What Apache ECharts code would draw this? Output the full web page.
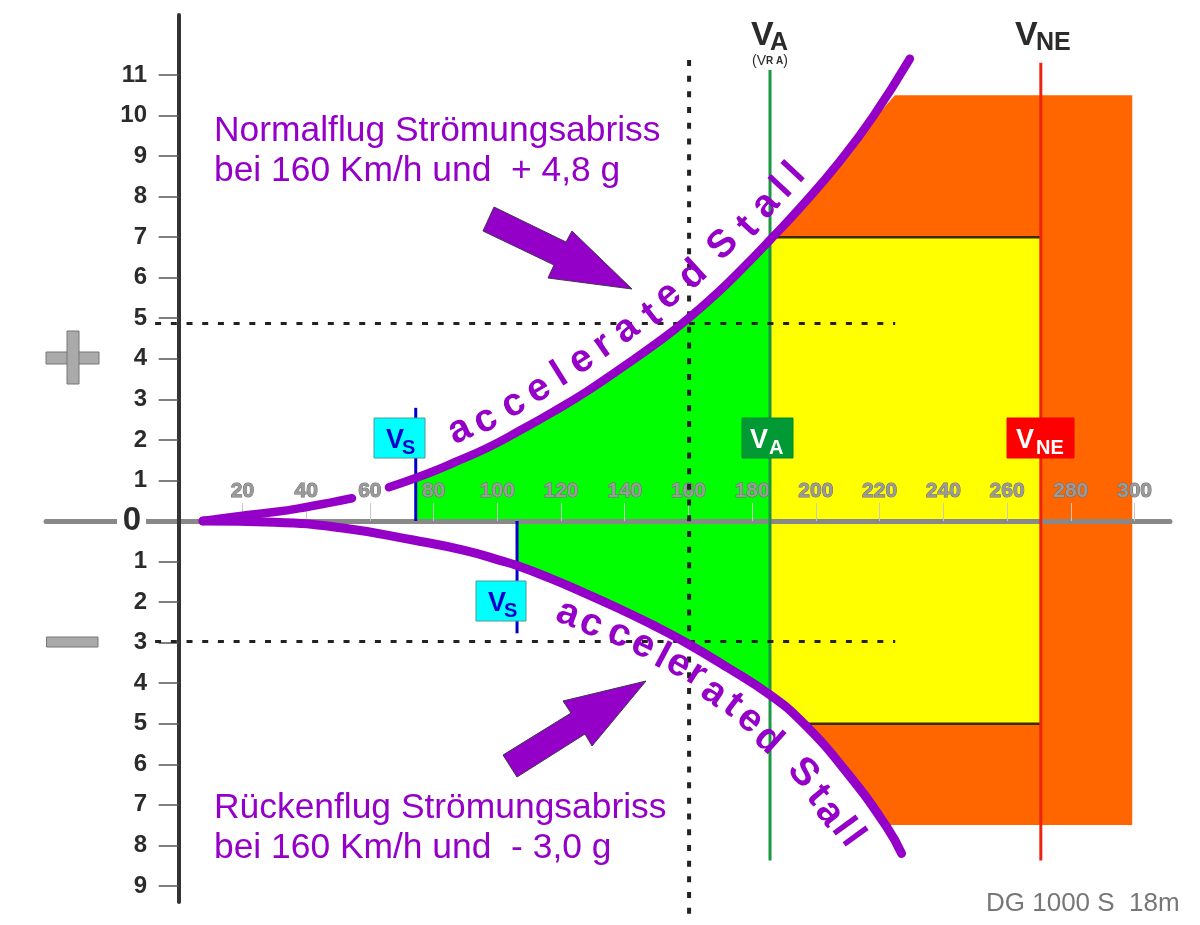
<!DOCTYPE html>
<html>
<head>
<meta charset="utf-8">
<title>DG 1000 S 18m</title>
<script src="https://cdn.jsdelivr.net/npm/echarts@6/dist/echarts.min.js"></script>
<style>
  html, body { margin: 0; padding: 0; background: #fff; }
  #chart { width: 1200px; height: 925px; }
</style>
</head>
<body>
<div id="chart"></div>
<script>
// Geschwindigkeit in km/h, Lastvielfaches in g (negativ = Rückenflug)
const speedTicks = [20, 40, 60, 80, 100, 120, 140, 160, 180, 200, 220, 240, 260, 280, 300];
const loadTicks = [11, 10, 9, 8, 7, 6, 5, 4, 3, 2, 1, -1, -2, -3, -4, -5, -6, -7, -8, -9];

// Stall-Kurve oben, Lücke um die Beschriftung "60"
const upperCurveLow = [[7.6, 0], [20, 0.13], [30, 0.22], [39.8, 0.34], [48, 0.46], [54.4, 0.56]];
const upperCurveHigh = [[66, 0.83], [74.4, 1.06], [79.8, 1.22], [86.1, 1.43], [96.8, 1.8], [107.1, 2.23], [117.5, 2.69], [128.2, 3.2], [138.5, 3.75], [152, 4.5], [160, 5], [169, 5.62], [177.1, 6.24], [185.6, 6.93], [195, 7.72], [207.5, 8.87], [218, 9.98], [229.5, 11.4]];
// Stall-Kurve unten
const lowerCurve = [[7.6, 0], [30, -0.03], [52, -0.18], [73.6, -0.47], [90, -0.73], [100.8, -0.97], [106.2, -1.1], [116.5, -1.41], [126.9, -1.76], [137.6, -2.14], [147.9, -2.53], [158.3, -2.96], [172, -3.6], [185.6, -4.29], [196, -4.98], [209.7, -6.2], [222.2, -7.54], [226.9, -8.2]];

const orangeEnvelope = [[185.6, 7], [224.8, 10.5], [299.3, 10.5], [299.3, -7.5], [222.5, -7.5], [197, -5]];
const yellowEnvelope = [[185.6, 7], [270.6, 7], [270.6, -5], [197, -5], [185.6, -4.29]];

const vsNormal = 74.4;
const vsInverted = 106.2;
const vA = 185.6;
const vNE = 270.6;
const vCheck = 160.2;
const gNormal = 4.87;
const gInverted = -2.97;
const gLimitPos = 7;
const gLimitNeg = -5;

const PURPLE = '#9400c8';
const FONT = '"Liberation Sans", Arial, sans-serif';

// Grüner Bereich: von Vs oben an der Kurve entlang bis VA und zurück bis Vs unten
const greenEnvelope = upperCurveHigh.filter(p => p[0] >= vsNormal && p[0] <= vA)
  .concat(lowerCurve.filter(p => p[0] >= vsInverted && p[0] <= vA).reverse())
  .concat([[vsInverted, 0], [vsNormal, 0]]);

function areaSeries(points, color, z) {
  return {
    type: 'custom',
    silent: true,
    z: z,
    clip: false,
    data: points,
    renderItem: function (params, api) {
      if (params.dataIndex !== 0) return null;
      return {
        type: 'polygon',
        shape: { points: points.map(p => api.coord(p)) },
        style: { fill: color }
      };
    }
  };
}

function lineSeries(points, color, width, z, dash, cap) {
  return {
    type: 'line',
    data: points,
    showSymbol: false,
    silent: true,
    clip: false,
    z: z,
    smooth: false,
    lineStyle: { color: color, width: width, type: dash || 'solid', cap: cap || 'butt' }
  };
}

function curveSeries(points, width) {
  let s = lineSeries(points, PURPLE, width, 7, 'solid', 'round');
  s.smooth = 0.5;
  return s;
}

// Beschriftungen: [Buchstabe, x, y, Winkel]
const stallTop = [
  ['a', 461, 433, 25], ['c', 487, 423, 27], ['c', 515, 407, 28], ['e', 540, 392, 30],
  ['l', 560, 375, 32], ['e', 583, 363, 33], ['r', 605, 348, 35], ['a', 628, 332, 37],
  ['t', 652, 315, 38], ['e', 670, 298, 40], ['d', 693, 275, 42], ['S', 723, 245, 45],
  ['t', 748, 227, 47], ['a', 768, 207, 48], ['l', 782, 188, 47], ['l', 795, 173, 47]
];
const stallBottom = [
  ['a', 567, 617, -21], ['c', 590, 627, -22], ['c', 618, 637, -24], ['e', 642, 648, -26],
  ['l', 662, 657, -28], ['e', 677, 667, -30], ['r', 695, 677, -32], ['a', 712, 695, -35],
  ['t', 733, 705, -37], ['e', 748, 722, -40], ['d', 768, 740, -42], ['S', 803, 773, -48],
  ['t', 818, 795, -50], ['a', 827, 815, -52], ['l', 843, 827, -54], ['l', 853, 838, -54]
];

function letter(item) {
  // Kleinbuchstaben ohne Oberlänge sitzen sonst zu tief in der Zeile
  const lift = 'acer'.includes(item[0]) ? 3 : 0;
  return {
    type: 'text', x: item[1], y: item[2], rotation: item[3] * Math.PI / 180, z: 20,
    style: { text: item[0], x: 0, y: -lift, font: 'bold 39px ' + FONT, fill: PURPLE, align: 'center', verticalAlign: 'middle' }
  };
}

// y ist die Schriftlinie
function label(text, x, y, size, color, weight) {
  return {
    type: 'text', x: x, y: y - 0.81 * size, z: 22,
    style: { text: text, font: (weight || 'normal') + ' ' + size + 'px ' + FONT, fill: color, align: 'left', verticalAlign: 'top' }
  };
}

function box(x, y, w, h, fill, stroke) {
  return { type: 'rect', z: 21, shape: { x: x, y: y, width: w, height: h }, style: { fill: fill, stroke: stroke, lineWidth: 1 } };
}

function arrow(points) {
  return { type: 'polygon', z: 19, shape: { points: points }, style: { fill: PURPLE, stroke: '#443355', lineWidth: 1 } };
}

const graphics = [
  label('Normalflug Strömungsabriss', 214, 142, 35.4, PURPLE),
  label('bei 160 Km/h und  + 4,8 g', 214, 182, 35.4, PURPLE),
  label('Rückenflug Strömungsabriss', 214, 819, 35.4, PURPLE),
  label('bei 160 Km/h und  - 3,0 g', 214, 859, 35.4, PURPLE),
  label('DG 1000 S  18m', 986, 912, 26, '#777777'),

  arrow([[494, 207], [483, 231], [554, 265], [548, 278], [632, 289], [572, 231], [566, 242]]),
  arrow([[503, 755], [517, 777], [585, 734], [592, 746], [646, 681], [563, 701], [571, 713]]),

  // Plus und Minus links
  { type: 'rect', z: 21, shape: { x: 46, y: 352, width: 53, height: 12 }, style: { fill: '#aaaaaa', stroke: '#777777', lineWidth: 1 } },
  { type: 'rect', z: 21, shape: { x: 67, y: 331, width: 12, height: 53 }, style: { fill: '#aaaaaa', stroke: '#777777', lineWidth: 1 } },
  { type: 'rect', z: 22, shape: { x: 68, y: 353, width: 10, height: 10 }, style: { fill: '#aaaaaa' } },
  { type: 'rect', z: 21, shape: { x: 46.5, y: 637, width: 51.5, height: 10 }, style: { fill: '#aaaaaa', stroke: '#777777', lineWidth: 1 } },

  // Null
  { type: 'rect', z: 21, shape: { x: 117, y: 515, width: 29, height: 12 }, style: { fill: '#ffffff' } },
  { type: 'text', x: 132, y: 521, z: 22, style: { text: '0', font: 'bold 33px ' + FONT, fill: '#2b2b2b', align: 'center', verticalAlign: 'middle' } },

  // Kopf der Linien
  label('V', 751, 46, 34, '#2b2b2b', 'bold'),
  label('A', 770, 51, 25, '#2b2b2b', 'bold'),
  {
    type: 'text', x: 770, y: 61, z: 22,
    style: {
      text: '{a|(V}{b|R A}{a|)}', align: 'center', verticalAlign: 'middle', fill: '#2b2b2b',
      rich: { a: { fontSize: 14, fontFamily: FONT, fill: '#2b2b2b' }, b: { fontSize: 10, fontFamily: FONT, fontWeight: 'bold', fill: '#2b2b2b' } }
    }
  },
  label('V', 1015, 46, 34, '#2b2b2b', 'bold'),
  label('NE', 1036, 51, 25, '#2b2b2b', 'bold'),

  // Kästchen auf den Linien
  box(374, 418, 51, 40, '#00ffff', '#4a9a9a'),
  label('V', 386, 449, 27, '#0000cc', 'bold'),
  label('S', 402, 455, 20, '#0000cc', 'bold'),
  box(476, 581, 50, 40, '#00ffff', '#4a9a9a'),
  label('V', 488, 612, 27, '#0000cc', 'bold'),
  label('S', 504, 618, 20, '#0000cc', 'bold'),
  box(742, 418, 51, 40, '#009933', '#008830'),
  label('V', 750, 449, 27, '#ffffff', 'bold'),
  label('A', 769, 455, 20, '#ffffff', 'bold'),
  box(1007, 418, 67, 40, '#ff0000', '#ee0000'),
  label('V', 1016, 449, 27, '#ffffff', 'bold'),
  label('NE', 1036, 455, 20, '#ffffff', 'bold')
].concat(stallTop.map(letter), stallBottom.map(letter));

const chart = echarts.init(document.getElementById('chart'), null, { renderer: 'canvas', width: 1200, height: 925 });

chart.setOption({
  animation: false,
  backgroundColor: '#ffffff',
  grid: { left: 46, top: 15, width: 1124, height: 887, outerBoundsMode: 'none' },
  xAxis: {
    type: 'value',
    min: -41.65,
    max: 311.15,
    z: 3,
    axisLine: { onZero: true, lineStyle: { color: '#888888', width: 5 } },
    axisTick: { inside: true, length: 18, customValues: speedTicks, lineStyle: { color: '#c8c8c8', width: 1 } },
    axisLabel: {
      inside: true,
      margin: 400,
      customValues: speedTicks,
      fontFamily: FONT,
      fontWeight: 'bold',
      fontSize: 21,
      color: '#9a9a9a',
      textBorderColor: '#6e6e6e',
      textBorderWidth: 1
    },
    splitLine: { show: false }
  },
  yAxis: {
    type: 'value',
    min: -9.396,
    max: 12.478,
    z: 4,
    axisLine: { onZero: true, lineStyle: { color: '#333333', width: 4 } },
    axisTick: { length: 20, customValues: loadTicks, lineStyle: { color: '#555555', width: 1.5 } },
    axisLabel: {
      inside: true,
      margin: 101,
      align: 'right',
      customValues: loadTicks,
      formatter: v => String(Math.abs(v)),
      fontFamily: FONT,
      fontWeight: 'bold',
      fontSize: 24,
      color: '#2b2b2b'
    },
    splitLine: { show: false }
  },
  series: [
    areaSeries(orangeEnvelope, '#ff6600', 1),
    areaSeries(yellowEnvelope, '#ffff00', 1.1),
    areaSeries(greenEnvelope, '#00ff00', 1.2),
    lineSeries([[vA + 0.8, gLimitPos], [vNE, gLimitPos]], '#3a2a10', 2.5, 4),
    lineSeries([[197, gLimitNeg], [vNE, gLimitNeg]], '#3a2a10', 2.5, 4),
    lineSeries([[vA, 11.12], [vA, -8.37]], '#1a9641', 3, 5),
    lineSeries([[vNE, 11.3], [vNE, -8.37]], '#ee2211', 3, 5),
    lineSeries([[vsNormal, 2.79], [vsNormal, 0]], '#0000cc', 3, 5),
    lineSeries([[vsInverted, 0], [vsInverted, -2.77]], '#0000cc', 3, 5),
    lineSeries([[vCheck, 11.37], [vCheck, -9.84]], '#222222', 4, 6, [6, 9.7]),
    lineSeries([[-7.4, gNormal], [224.9, gNormal]], '#222222', 3, 6, [6, 9.7]),
    lineSeries([[-7.4, gInverted], [224.9, gInverted]], '#222222', 3, 6, [6, 9.7]),
    curveSeries(upperCurveLow, 8.5),
    curveSeries(upperCurveHigh, 8.5),
    curveSeries(lowerCurve, 9)
  ],
  graphic: { elements: graphics }
});
</script>
</body>
</html>
